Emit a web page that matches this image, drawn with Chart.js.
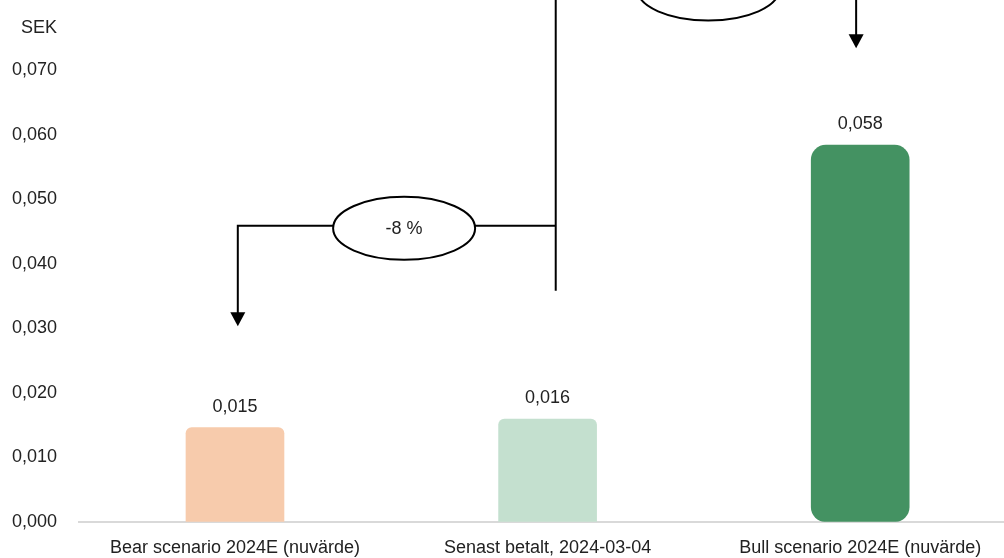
<!doctype html>
<html lang="sv">
<head>
<meta charset="utf-8" />
<title>Scenarier</title>
<script src="https://cdn.jsdelivr.net/npm/chart.js@4"></script>
<style>
  html, body { margin: 0; padding: 0; background: #fff; }
  #wrap { width: 1004px; height: 558px; position: relative; }
</style>
</head>
<body>
<div id="wrap"><canvas id="c"></canvas></div>
<script>
// data
const categories = ["Bear scenario 2024E (nuvärde)", "Senast betalt, 2024-03-04", "Bull scenario 2024E (nuvärde)"];
const values = [0.0146, 0.0159, 0.0584];
const barColors = ["#f7cbac", "#c4e0cf", "#449262"];
const yTicks = [0, 0.01, 0.02, 0.03, 0.04, 0.05, 0.06, 0.07];
const unitLabel = "SEK";

// connector annotations, in data units (x = category index, y = SEK)
const downLabel = "-8 %";
const upLabel = "+263 %";

const FONT = "'Liberation Sans', Arial, sans-serif";
const fmt = (v) => v.toFixed(3).replace(".", ",");

const labelsPlugin = {
  id: "labels",
  afterDatasetsDraw(chart) {
    const { ctx } = chart;
    const meta = chart.getDatasetMeta(0);
    ctx.save();
    ctx.font = "18px " + FONT;
    ctx.fillStyle = "#222";
    ctx.textAlign = "center";
    ctx.textBaseline = "alphabetic";
    meta.data.forEach((bar, i) => ctx.fillText(fmt(values[i]), bar.x, bar.y - 16));
    ctx.textAlign = "right";
    ctx.fillText(unitLabel, 57, 33);
    ctx.restore();
  },
};

function arrowDown(ctx, x, y) {
  ctx.beginPath();
  ctx.moveTo(x - 7.5, y - 14);
  ctx.lineTo(x + 7.5, y - 14);
  ctx.lineTo(x, y);
  ctx.closePath();
  ctx.fill();
}

function bubble(ctx, cx, cy, text) {
  ctx.beginPath();
  ctx.ellipse(cx, cy, 71, 31.5, 0, 0, Math.PI * 2);
  ctx.fillStyle = "#fff";
  ctx.fill();
  ctx.stroke();
  ctx.fillStyle = "#222";
  ctx.fillText(text, cx, cy + 1);
}

const connectorPlugin = {
  id: "connectors",
  afterDraw(chart) {
    const { ctx } = chart;
    const xs = chart.scales.x, ys = chart.scales.y;
    const X = (v) => xs.getPixelForValue(v);
    const Y = (v) => ys.getPixelForValue(v);
    ctx.save();
    ctx.strokeStyle = "#000";
    ctx.fillStyle = "#000";
    ctx.lineWidth = 2;
    ctx.font = "18px " + FONT;
    ctx.textAlign = "center";
    ctx.textBaseline = "middle";

    // down: Senast -> Bear
    const midX = X(1.026), leftX = X(0.009), topY = Y(0.0829);
    ctx.beginPath();
    ctx.moveTo(midX, Y(0.0358));
    ctx.lineTo(midX, topY);
    ctx.stroke();
    ctx.beginPath();
    ctx.moveTo(midX, Y(0.0459));
    ctx.lineTo(leftX, Y(0.0459));
    ctx.lineTo(leftX, Y(0.0303) - 12);
    ctx.stroke();
    ctx.fillStyle = "#000";
    arrowDown(ctx, leftX, Y(0.0303));
    bubble(ctx, X(0.541), Y(0.0455), downLabel);

    // up: Senast -> Bull
    const rightX = X(1.987);
    ctx.beginPath();
    ctx.moveTo(midX, topY);
    ctx.lineTo(rightX, topY);
    ctx.lineTo(rightX, Y(0.0734) - 12);
    ctx.stroke();
    ctx.fillStyle = "#000";
    arrowDown(ctx, rightX, Y(0.0734));
    bubble(ctx, X(1.514), Y(0.0826), upLabel);
    ctx.restore();
  },
};

new Chart(document.getElementById("c"), {
  type: "bar",
  data: {
    datasets: [{
      data: values.map((v, i) => ({ x: i, y: v })),
      backgroundColor: barColors,
      barThickness: 98,
      borderRadius: (c) => (c.dataIndex === 2 ? 15 : 6),
      borderSkipped: (c) => (c.dataIndex === 2 ? false : "start"),
    }],
  },
  options: {
    responsive: true,
    maintainAspectRatio: false,
    animation: false,
    layout: { padding: 0 },
    plugins: { legend: { display: false }, tooltip: { enabled: false } },
    scales: {
      x: {
        type: "linear",
        offset: false,
        min: -0.499,
        max: 2.46,
        grid: { display: false, drawTicks: false },
        border: { display: true, color: "#d9d9d9", width: 2 },
        afterBuildTicks: (s) => { s.ticks = categories.map((_, i) => ({ value: i })); },
        afterFit: (s) => { s.height = 36.3; s.paddingLeft = 0; s.paddingRight = 0; },
        ticks: {
          autoSkip: false,
          maxRotation: 0,
          padding: 16,
          color: "#222",
          font: { family: FONT, size: 18 },
          callback: (v) => categories[v] ?? "",
        },
      },
      y: {
        min: 0,
        max: 0.0809,
        grid: { display: false, drawTicks: false },
        border: { display: false },
        afterBuildTicks: (s) => { s.ticks = yTicks.map((v) => ({ value: v })); },
        afterFit: (s) => { s.width = 79; s.paddingTop = 0; s.paddingBottom = 0; },
        ticks: {
          padding: 22,
          color: "#222",
          font: { family: FONT, size: 18 },
          callback: (v) => fmt(v),
        },
      },
    },
  },
  plugins: [labelsPlugin, connectorPlugin],
});
</script>
</body>
</html>
